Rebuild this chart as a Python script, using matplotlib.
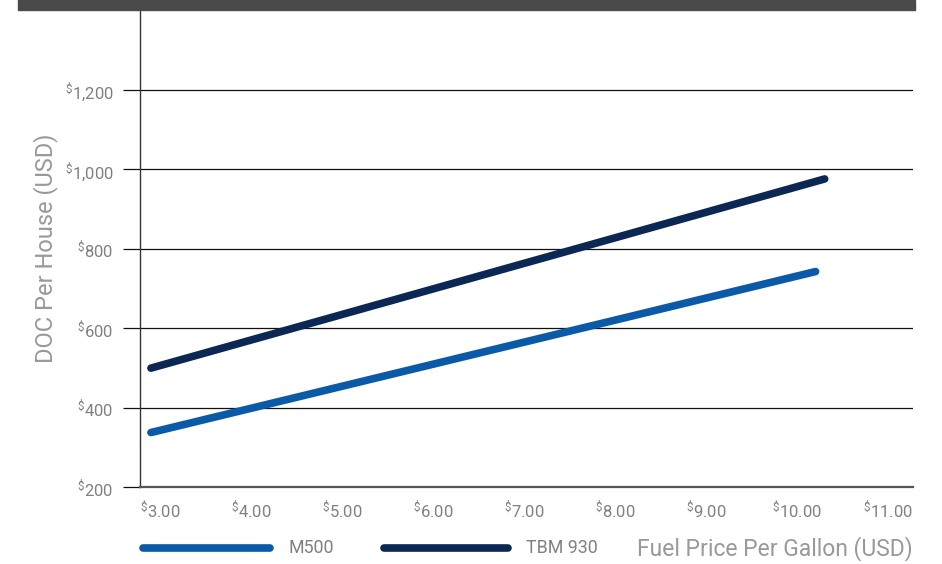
import matplotlib
matplotlib.use("Agg")
import matplotlib.pyplot as plt
from matplotlib.patches import Rectangle
from matplotlib.lines import Line2D

plt.rcParams['font.family'] = ['Roboto', 'DejaVu Sans']
plt.rcParams['mathtext.default'] = 'regular'

series_names = ["M500", "TBM 930"]
m500_x = [2.9, 10.2]
m500_y = [337, 742]
tbm_x = [2.9, 10.3]
tbm_y = [499, 975]
yticks = [200, 400, 600, 800, 1000, 1200]
xticks = [3, 4, 5, 6, 7, 8, 9, 10, 11]
colors = ["#0a5aa8", "#0b2855"]

fig = plt.figure(figsize=(9.42, 5.64), dpi=100)
ax = fig.add_axes([140/942, 1-487/564, (913-140)/942, (487-10)/564])

ax.plot(m500_x, m500_y, color=colors[0], lw=5.5, solid_capstyle='round')
ax.plot(tbm_x, tbm_y, color=colors[1], lw=5.5, solid_capstyle='round')

ax.set_xlim(2.78, 11.27)
ax.set_ylim(200, 1400)
ax.set_yticks(yticks)
ax.set_yticklabels([r'$^{\$}$' + f'{v:,}' for v in yticks])
ax.set_xticks(xticks)
ax.set_xticklabels([r'$^{\$}$' + f'{v:.2f}' for v in xticks])
ax.grid(axis='y', color='#111111', lw=0.9)
ax.set_axisbelow(True)
ax.tick_params(axis='y', length=12, width=0.9, color='#111111', labelcolor='#808080',
               labelsize=12, pad=7)
ax.tick_params(axis='x', length=0, labelcolor='#808080', labelsize=12, pad=8)
for s in ['top', 'right']:
    ax.spines[s].set_visible(False)
ax.spines['left'].set_color('#333333')
ax.spines['left'].set_linewidth(1.0)
ax.spines['bottom'].set_color('#555555')
ax.spines['bottom'].set_linewidth(1.6)

ax.set_ylabel("DOC Per House (USD)", color='#999999', fontsize=17, labelpad=4)
ax.yaxis.set_label_coords(-0.106, 0.5)
fig.text(913/942, 1-549/564, "Fuel Price Per Gallon (USD)", color='#999999',
         fontsize=16.5, ha='right', va='center')

# top dark band
fig.patches.append(Rectangle((18/942, 1-10/564), (915-18)/942, 10/564,
                             transform=fig.transFigure, color='#4a4a4c', zorder=5))

# legend
ly = 1-548/564
fig.lines.append(Line2D([143/942, 270/942], [ly, ly], transform=fig.transFigure,
                        color=colors[0], lw=5.5, solid_capstyle='round'))
fig.text(289/942, ly, series_names[0], color='#808080', fontsize=12.8, va='center')
fig.lines.append(Line2D([384/942, 508/942], [ly, ly], transform=fig.transFigure,
                        color=colors[1], lw=5.5, solid_capstyle='round'))
fig.text(526/942, ly, series_names[1], color='#808080', fontsize=12.8, va='center')

fig.savefig("out.png", dpi=100)
